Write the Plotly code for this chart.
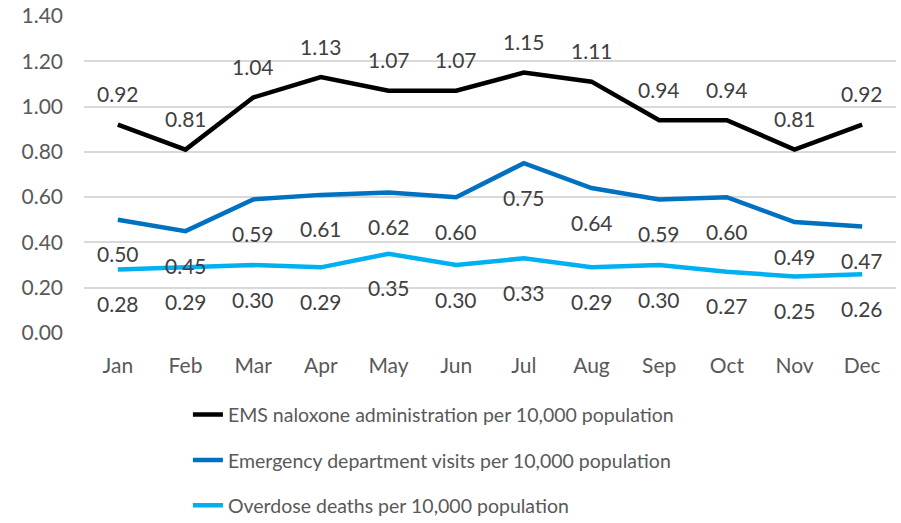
import plotly.graph_objects as go

months = ["Jan", "Feb", "Mar", "Apr", "May", "Jun", "Jul", "Aug", "Sep", "Oct", "Nov", "Dec"]
ems = [0.92, 0.81, 1.04, 1.13, 1.07, 1.07, 1.15, 1.11, 0.94, 0.94, 0.81, 0.92]
ed = [0.50, 0.45, 0.59, 0.61, 0.62, 0.60, 0.75, 0.64, 0.59, 0.60, 0.49, 0.47]
deaths = [0.28, 0.29, 0.30, 0.29, 0.35, 0.30, 0.33, 0.29, 0.30, 0.27, 0.25, 0.26]

series = [
    ("EMS naloxone administration per 10,000 population", ems, "#000000", 31),
    ("Emergency department visits per 10,000 population", ed, "#0070C0", -34),
    ("Overdose deaths per 10,000 population", deaths, "#00B0F0", -34),
]

FONT = "Lato"
fig = go.Figure()
annotations = []
for i, (name, vals, color, shift) in enumerate(series):
    fig.add_trace(go.Scatter(
        x=months, y=vals, mode="lines", name=name,
        line=dict(color=color, width=4.5), legendgroup=f"g{i}",
    ))
    for m, v in zip(months, vals):
        annotations.append(dict(
            x=m, y=v, text=f"{v:.2f}", showarrow=False, yshift=shift,
            font=dict(family=FONT, size=21, color="#404040"),
        ))

fig.update_layout(
    width=901, height=523,
    margin=dict(l=84, r=5, t=16, b=190, autoexpand=False),
    plot_bgcolor="white", paper_bgcolor="white",
    font=dict(family=FONT, size=20, color="#595959"),
    annotations=annotations,
    showlegend=True,
    legend=dict(
        orientation="v", x=0.128, xanchor="left", y=-0.197, yanchor="top",
        font=dict(family=FONT, size=19.5, color="#595959"),
        tracegroupgap=17, bgcolor="rgba(0,0,0,0)",
    ),
    xaxis=dict(
        type="category", range=[-0.5, 11.5], showgrid=False, showline=False,
        zeroline=False, ticks="outside", ticklen=14, tickcolor="rgba(0,0,0,0)",
        tickfont=dict(family=FONT, size=21, color="#595959"),
    ),
    yaxis=dict(
        range=[0, 1.4], dtick=0.2, tickformat=".2f", showgrid=True,
        gridcolor="#D9D9D9", gridwidth=1.5, zeroline=False, showline=False,
        ticklabelstandoff=20,
        tickfont=dict(family=FONT, size=21, color="#595959"),
    ),
)

fig.write_html(
    "out.html",
    config={"displayModeBar": False},
    post_script="document.body.style.margin='0';document.body.style.overflow='hidden';",
)
